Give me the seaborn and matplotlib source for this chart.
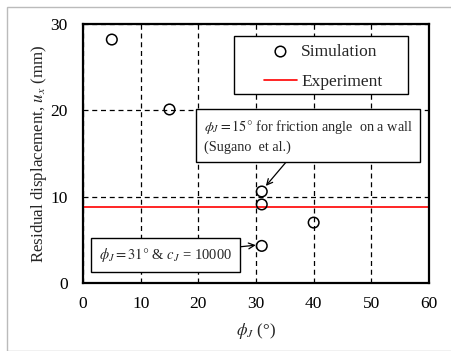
import seaborn as sns
import matplotlib.pyplot as plt
import pandas as pd
from matplotlib.patches import Rectangle

# friction angle phi_J (deg) vs residual displacement u_x (mm)
phi_j = [5, 15, 31, 31, 31, 40]
u_x = [28.2, 20.1, 10.6, 9.1, 4.3, 7.0]
experiment_ux = 8.85

x_ticks = [0, 10, 20, 30, 40, 50, 60]
y_ticks = [0, 10, 20, 30]

sns.set_style("white")
plt.rcParams.update({
    "font.family": ["Liberation Serif", "DejaVu Serif"],
    "mathtext.fontset": "stix",
    "font.size": 12,
    "axes.edgecolor": "black",
    "axes.linewidth": 1.6,
})

df = pd.DataFrame({"phi": phi_j, "ux": u_x})

fig = plt.figure(figsize=(4.52, 3.51), dpi=100, facecolor="white")
ax = fig.add_axes([0.1836, 0.1937, 0.7655, 0.7379])

# thin outer frame of the figure
fig.patches.append(Rectangle((7 / 452, 0), 1, (351 - 7) / 351, transform=fig.transFigure,
                             fill=False, edgecolor="#bbbbbb", linewidth=1.0))

ax.axhline(experiment_ux, color="red", linewidth=1.2, label="Experiment", zorder=2)
sns.scatterplot(data=df, x="phi", y="ux", ax=ax, marker="o", s=58,
                facecolor="none", edgecolor="black", linewidth=1.1,
                label="Simulation", zorder=3)

ax.set_xlim(0, 60)
ax.set_ylim(0, 30)
ax.set_xticks(x_ticks)
ax.set_yticks(y_ticks)
ax.tick_params(length=0, labelsize=12.5, colors="black")
ax.tick_params(axis="y", pad=11)
ax.tick_params(axis="x", pad=9)
ax.grid(True, color="black", linestyle=(0, (4, 3)), linewidth=0.9)
ax.set_axisbelow(True)

ax.set_xlabel(r"$\phi_J$ (°)", fontsize=12.2, labelpad=7)
ax.set_ylabel(r"Residual displacement, $u_x$ (mm)", fontsize=12.2, labelpad=1)

# legend box drawn separately so it can be wider than its content
ax.add_patch(Rectangle((0.436, 0.730), 0.503, 0.224, transform=ax.transAxes,
                       facecolor="white", edgecolor="black", linewidth=1.0, zorder=4))
handles, labels = ax.get_legend_handles_labels()
order = [labels.index("Simulation"), labels.index("Experiment")]
leg = ax.legend([handles[i] for i in order], [labels[i] for i in order],
                loc="upper left", bbox_to_anchor=(0.523, 0.923), fontsize=12.5,
                frameon=False, borderpad=0, labelspacing=0.78, handlelength=1.9,
                handletextpad=0.25, borderaxespad=0)
leg.set_zorder(5)

box = dict(boxstyle="square,pad=0.55", facecolor="white", edgecolor="black", linewidth=1.0)
ax.annotate("$\\phi_J = 15°$ for friction angle  on a wall\n(Sugano  et al.)",
            xy=(31.4, 11.0), xytext=(20.9, 17.0), textcoords="data",
            ha="left", va="center", fontsize=10.3, bbox=box, linespacing=1.4,
            arrowprops=dict(arrowstyle="->", color="black", linewidth=0.9,
                            shrinkA=0, shrinkB=2), zorder=5)
ax.annotate("$\\phi_J = 31°$ & $c_J$ = 10000",
            xy=(30.2, 4.4), xytext=(2.8, 3.3), textcoords="data",
            ha="left", va="center", fontsize=10.5, bbox=box,
            arrowprops=dict(arrowstyle="->", color="black", linewidth=0.9,
                            shrinkA=0, shrinkB=1), zorder=5)

fig.savefig("out.png", dpi=100, facecolor="white")
